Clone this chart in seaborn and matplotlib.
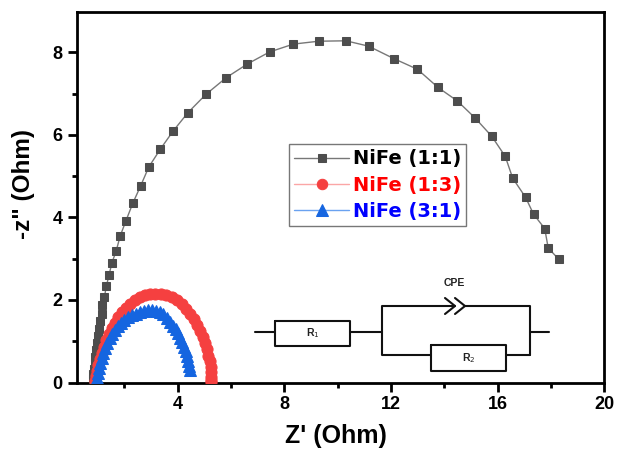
import pandas as pd
import seaborn as sns
from matplotlib import pyplot as plt

# values
x_11 = [0.82, 0.84, 0.86, 0.89, 0.92, 0.95, 0.98, 1.02, 1.06, 1.10, 1.15, 1.18, 1.26, 1.33, 1.43, 1.54, 1.70,
        1.85, 2.06, 2.32, 2.62, 2.92, 3.36, 3.83, 4.39, 5.06, 5.83, 6.62, 7.45, 8.34, 9.29, 10.31,
        11.16, 12.10, 12.99, 13.76, 14.49, 15.15, 15.77, 16.28, 16.56, 17.04, 17.34, 17.76, 17.89, 18.28]
y_11 = [0.08, 0.20, 0.33, 0.47, 0.62, 0.78, 0.95, 1.12, 1.30, 1.48, 1.66, 1.88, 2.08, 2.33, 2.60, 2.90, 3.19,
        3.55, 3.91, 4.34, 4.77, 5.22, 5.66, 6.09, 6.54, 6.98, 7.39, 7.72, 8.01, 8.20, 8.27, 8.28,
        8.15, 7.85, 7.59, 7.15, 6.82, 6.41, 5.97, 5.48, 4.95, 4.49, 4.08, 3.73, 3.26, 2.99]

x_13 = [0.90, 0.93, 0.97, 1.02, 1.08, 1.15, 1.23, 1.32, 1.42, 1.53, 1.65, 1.78, 1.92, 2.07, 2.23, 2.40, 2.58,
        2.77, 2.97, 3.17, 3.38, 3.58, 3.78, 3.97, 4.15, 4.32, 4.47, 4.61, 4.73, 4.84, 4.94, 5.02, 5.09, 5.15,
        5.20, 5.24, 5.26, 5.27, 5.27, 5.25]
y_13 = [0.03, 0.15, 0.28, 0.42, 0.57, 0.72, 0.87, 1.02, 1.17, 1.31, 1.45, 1.58, 1.70, 1.81, 1.91, 1.99, 2.06,
        2.11, 2.14, 2.15, 2.14, 2.11, 2.06, 1.99, 1.90, 1.79, 1.67, 1.54, 1.40, 1.25, 1.10, 0.95, 0.80, 0.65,
        0.51, 0.37, 0.25, 0.14, 0.05, 0.02]

x_31 = [0.97, 0.99, 1.02, 1.06, 1.10, 1.15, 1.21, 1.28, 1.36, 1.45, 1.54, 1.64, 1.75, 1.87, 2.00, 2.14, 2.28,
        2.43, 2.58, 2.73, 2.88, 3.03, 3.18, 3.33, 3.47, 3.60, 3.72, 3.83, 3.93, 4.02, 4.10, 4.17, 4.24, 4.30,
        4.36, 4.40, 4.43, 4.45]
y_31 = [0.02, 0.12, 0.24, 0.36, 0.48, 0.60, 0.72, 0.84, 0.96, 1.07, 1.17, 1.27, 1.36, 1.44, 1.52, 1.58, 1.63,
        1.67, 1.71, 1.73, 1.75, 1.75, 1.74, 1.72, 1.65, 1.56, 1.47, 1.38, 1.29, 1.19, 1.09, 0.98, 0.87, 0.76,
        0.64, 0.52, 0.41, 0.30]

names = ['NiFe (1:1)', 'NiFe (1:3)', 'NiFe (3:1)']
dark = '#4d4d4d'
red = '#f54040'
blue = '#1565e0'
text_cols = ['black', '#ff0000', '#0000ff']
x_ticks = [4, 8, 12, 16, 20]
y_ticks = [0, 2, 4, 6, 8]

df = pd.DataFrame({
    'x': x_11 + x_13 + x_31,
    'y': y_11 + y_13 + y_31,
    'sample': [names[0]] * len(x_11) + [names[1]] * len(x_13) + [names[2]] * len(x_31),
})

sns.set_style('white')
plt.rcParams['font.family'] = ['Liberation Sans', 'DejaVu Sans']
plt.rcParams['text.color'] = 'black'
plt.rcParams['axes.labelcolor'] = 'black'
plt.rcParams['xtick.color'] = 'black'
plt.rcParams['ytick.color'] = 'black'

fig = plt.figure(figsize=(6.18, 4.5), dpi=100)
ax = fig.add_axes([76.7 / 618, 1 - 382.5 / 450, (604.5 - 76.7) / 618, (382.5 - 11.5) / 450])

sns.lineplot(data=df, x='x', y='y', hue='sample', style='sample', hue_order=names, style_order=names,
             palette=['#777777', '#fba6a6', '#6aa2f0'], dashes=False, markers=['s', 'o', '^'],
             estimator=None, sort=False, lw=1, ms=7, ax=ax, zorder=3)

# marker colours differ from the thin lines
mark_cols = [dark, red, blue]
mark_sizes = [6, 8, 8]
for line, col, ms in zip(ax.get_lines(), mark_cols, mark_sizes):
    line.set_markerfacecolor(col)
    line.set_markeredgecolor(col)
    line.set_markersize(ms)

ax.set_xlim(0.22, 20)
ax.set_ylim(0, 8.99)
ax.set_xticks(x_ticks)
ax.set_yticks(y_ticks)
ax.set_xticks([2, 6, 10, 14, 18], minor=True)
ax.set_yticks([1, 3, 5, 7], minor=True)
ax.tick_params(which='major', bottom=True, left=True, length=6.5, width=2, labelsize=13, pad=3.5)
ax.tick_params(which='minor', bottom=True, left=True, length=3.3, width=2)
for lab in ax.get_xticklabels() + ax.get_yticklabels():
    lab.set_fontweight('bold')
for s in ax.spines.values():
    s.set_linewidth(2)
    s.set_color('black')

ax.set_xlabel("Z' (Ohm)", fontsize=18, fontweight='bold')
ax.set_ylabel('-z" (Ohm)', fontsize=17.5, fontweight='bold')
ax.xaxis.set_label_coords(0.491, -0.112)
ax.yaxis.set_label_coords(-0.079, 0.535)

leg = ax.legend(loc='upper left', bbox_to_anchor=(289 / 618, 1 - 144 / 450), bbox_transform=fig.transFigure,
                prop={'family': 'DejaVu Sans', 'weight': 'bold', 'size': 14}, frameon=True, fancybox=False,
                edgecolor='#777777', framealpha=1, borderaxespad=0, borderpad=0.28, labelspacing=0.37,
                handlelength=2.8, handletextpad=0.2)
leg.get_frame().set_linewidth(1)
leg.set_zorder(5)
for t, col in zip(leg.get_texts(), text_cols):
    t.set_color(col)
for h, col, ms in zip(leg.legend_handles, mark_cols, [6, 7.5, 8]):
    h.set_markerfacecolor(col)
    h.set_markeredgecolor(col)
    h.set_markersize(ms)

# equivalent circuit sketch, in figure pixels of the 618x450 canvas
def wire(xs, ys, lw=1.5):
    fig.add_artist(plt.Line2D([v / 618 for v in xs], [1 - v / 450 for v in ys], color='#111111', lw=lw))

wire([255, 275], [331.5, 331.5])
wire([275, 350, 350, 275, 275], [321, 321, 345.5, 345.5, 321])
wire([350, 382], [331.5, 331.5])
wire([382, 382, 455], [331.5, 306, 306])
wire([445, 455, 445], [298, 306, 314])
wire([455, 465, 455], [298, 306, 314])
wire([465, 529.5, 529.5], [306, 306, 355])
wire([382, 382, 431], [331.5, 355, 355])
wire([431, 506, 506, 431, 431], [345, 345, 370.5, 370.5, 345])
wire([506, 529.5], [355, 355])
wire([529.5, 549], [331.5, 331.5])
fig.text(454.5 / 618, 1 - 283 / 450, 'CPE', fontsize=7.5, fontweight='bold', ha='center', va='center', color='#222222')
fig.text(312.5 / 618, 1 - 333 / 450, 'R$_1$', fontsize=7.5, fontweight='bold', ha='center', va='center', color='#222222')
fig.text(468.5 / 618, 1 - 358 / 450, 'R$_2$', fontsize=7.5, fontweight='bold', ha='center', va='center', color='#222222')

fig.savefig('out.png', dpi=100)
